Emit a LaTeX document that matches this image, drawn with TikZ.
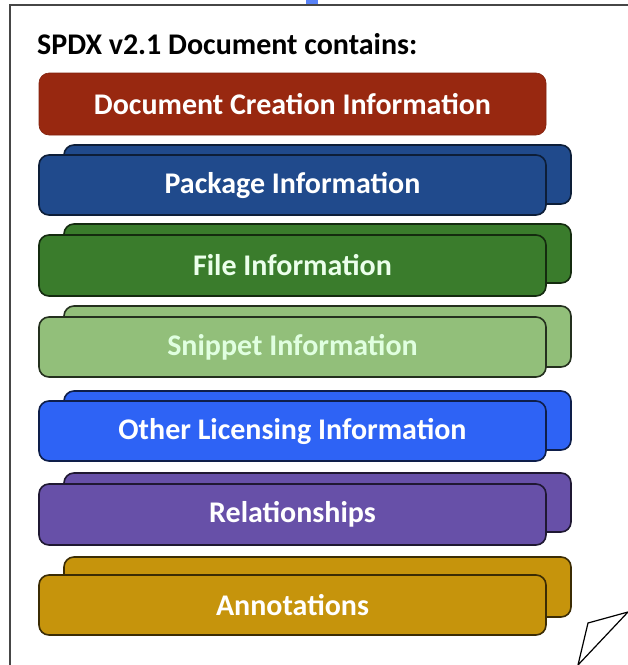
\documentclass[tikz,border=0pt]{standalone}
\usepackage{fontspec}
\setmainfont{Carlito}
\definecolor{dcired}{RGB}{152,40,16}
\definecolor{pkgblue}{RGB}{32,74,140}
\definecolor{filegreen}{RGB}{58,124,44}
\definecolor{snipgreen}{RGB}{146,191,122}
\definecolor{othblue}{RGB}{46,99,245}
\definecolor{relpurple}{RGB}{103,80,168}
\definecolor{anngold}{RGB}{198,148,12}
\definecolor{framegray}{RGB}{70,70,70}
\tikzset{
  card/.style={draw, line width=1.6pt, rounded corners=10pt, minimum width=507pt,
    inner sep=0pt, outer sep=0pt, anchor=north west, text=white,
    font=\fontsize{30}{32}\selectfont\bfseries},
  frameline/.style={draw=framegray, line width=2pt},
  curl/.style={draw=black, line width=1.2pt, line join=miter}
}
\begin{document}
\begin{tikzpicture}[x=1pt,y=-1pt]
\useasboundingbox[fill=white] (0,0) rectangle (628,665);
% frame
\coordinate (ftr) at (628,5);
\coordinate (ftl) at (10,5);
\coordinate (fbl) at (10,665);
\draw[frameline] (ftr) -- (ftl) -- (fbl);
\fill[othblue!80!white] (306,0) rectangle (318,4);
% title
\node[anchor=base west, inner sep=0pt, font=\fontsize{30}{32}\selectfont\bfseries] (title) at (37,54) {SPDX v2.1 Document contains:};
% document creation
\node[card, draw=dcired!85!black, line width=0.6pt, fill=dcired, minimum height=62pt] (dci) at (39,73) {Document Creation Information};
% package
\node[card, draw=pkgblue!40!black, fill=pkgblue, minimum height=59pt] (pkgb) at (64,145) {};
\node[card, draw=pkgblue!40!black, fill=pkgblue, minimum height=60pt] (pkg) at (39,155) {Package Information};
% file
\node[card, draw=filegreen!35!black, fill=filegreen, minimum height=59pt] (fileb) at (64,224) {};
\node[card, draw=filegreen!35!black, fill=filegreen, minimum height=61pt, text=white!92!green] (file) at (39,235) {File Information};
% snippet
\node[card, draw=snipgreen!25!black, fill=snipgreen, minimum height=61pt] (snipb) at (64,306) {};
\node[card, draw=snipgreen!25!black, fill=snipgreen, minimum height=60pt, text=white!88!green] (snip) at (39,317) {Snippet Information};
% other licensing
\node[card, draw=othblue!30!black, fill=othblue, minimum height=59pt] (othb) at (64,391) {};
\node[card, draw=othblue!30!black, fill=othblue, minimum height=60pt] (oth) at (39,401) {Other Licensing Information};
% relationships
\node[card, draw=relpurple!30!black, fill=relpurple, minimum height=59pt] (relb) at (64,473) {};
\node[card, draw=relpurple!30!black, fill=relpurple, minimum height=61pt] (rel) at (39,484) {Relationships};
% annotations
\node[card, draw=anngold!30!black, fill=anngold, minimum height=60pt] (annb) at (64,557) {};
\node[card, draw=anngold!30!black, fill=anngold, minimum height=60pt] (ann) at (39,575) {Annotations};
% page curl
\coordinate (c1) at (578,665);
\coordinate (c2) at (588,623);
\coordinate (c3) at (628,612);
\draw[curl] (c1) -- (c2) -- (c3) -- cycle;
\end{tikzpicture}
\end{document}
